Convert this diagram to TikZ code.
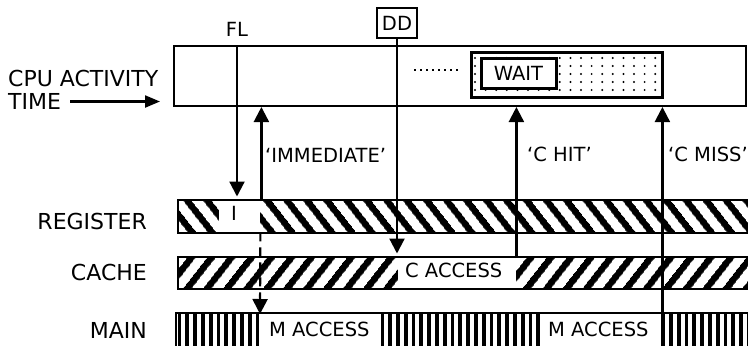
\documentclass[tikz,border=0pt]{standalone}
\usepackage{fontspec}
\setmainfont{DejaVu Sans}
\usetikzlibrary{patterns.meta,arrows.meta}
\begin{document}
\begin{tikzpicture}[x=1bp,y=-1bp,
  outer/.style={font=\fontsize{22bp}{26bp}\selectfont, inner sep=0pt},
  lbl/.style={font=\fontsize{19.5bp}{23bp}\selectfont, inner sep=0pt},
  arr/.style={line width=2.2bp, -{Triangle[length=15bp,width=15bp]}},
  barbox/.style={draw, line width=2bp, minimum width=580bp, anchor=west, inner sep=0pt},
  regpat/.style={pattern={Lines[angle=-52,distance=15.8bp,line width=7bp]}},
  cachepat/.style={pattern={Lines[angle=52,distance=15.8bp,line width=7bp]}},
  mainpat/.style={pattern={Lines[angle=90,distance=7.8bp,line width=3.8bp]}},
  whitebox/.style={fill=white, inner sep=0pt, anchor=north west}
]
\useasboundingbox (0,0) rectangle (748,345);

% CPU activity box
\node[draw, line width=2bp, inner sep=0pt, minimum width=572bp, minimum height=60bp] (cpu) at (460,76) {};

% wait area
\node[inner sep=0pt, minimum width=190bp, minimum height=44bp] (waitarea) at (567,75) {};
\begin{scope}
  \clip (waitarea.north west) rectangle (waitarea.south east);
  \foreach \i in {0,...,17} \foreach \j in {0,...,4}
    \fill (475+10.6*\i, 58+8*\j) circle (1.1bp);
\end{scope}
\draw[line width=3bp] (waitarea.north west) rectangle (waitarea.south east);
\node[draw, fill=white, line width=3bp, inner sep=0pt, minimum width=75bp, minimum height=30bp, lbl] (wait) at (518.5,73) {WAIT};
\coordinate (dotsA) at (414,70);
\coordinate (dotsB) at (462,70);
\draw[line width=2bp, dash pattern=on 2bp off 4bp] (dotsA) -- (dotsB);

% labels on the left
\node[outer, anchor=west] (cpulbl) at (8,78.5) {CPU ACTIVITY};
\node[outer, anchor=west] (time) at (8,101.5) {TIME};
\coordinate (timetip) at (160,101.5);
\draw[line width=2.2bp, -{Triangle[length=15bp,width=12bp]}] (70,101.5) -- (timetip);

\node[outer, anchor=east] (reglbl) at (147,221.5) {REGISTER};
\node[outer, anchor=east] (cachelbl) at (147,272) {CACHE};
\node[outer, anchor=east] (mainlbl) at (147,330.5) {MAIN};

% bars
\node[barbox, regpat, minimum height=33bp] (reg) at (174,216.5) {};
\node[barbox, cachepat, minimum height=32bp] (cache) at (174,273) {};
\node[barbox, mainpat, minimum height=42bp] (main) at (174,334) {};

% white boxes in bars
\node[whitebox, minimum width=41bp, minimum height=31bp] (ibox) at (219,201) {};
\node[lbl] (itext) at (234,213.5) {I};
\node[whitebox, minimum width=118bp, minimum height=30bp] (cacc) at (398,258) {};
\node[lbl, anchor=west] (cacctext) at (405,270) {C ACCESS};
\node[whitebox, minimum width=121bp, minimum height=40bp] (m1) at (260,314) {};
\node[lbl, anchor=west] (m1text) at (269,329) {M ACCESS};
\node[whitebox, minimum width=120bp, minimum height=40bp] (m2) at (540,314) {};
\node[lbl, anchor=west] (m2text) at (548,329) {M ACCESS};

% top labels
\node[lbl] (fl) at (237,29) {FL};
\node[draw, line width=2bp, inner sep=0pt, minimum width=40bp, minimum height=30bp, lbl] (dd) at (397,23) {DD};

% connectors
\draw[arr] (fl |- cpu.north) -- (fl |- reg.north);
\draw[arr] (dd.south) -- (dd.south |- cache.north);
\draw[arr] ([xshift=1bp]ibox.north east) -- ([xshift=1bp]ibox.north east |- cpu.south);
\draw[arr, dash pattern=on 9bp off 6bp] (ibox.south east) -- (m1.north west);
\draw[arr] (cacc.north east) -- (cacc.north east |- cpu.south);
\draw[arr] ([xshift=2bp]m2.north east) -- ([xshift=2bp]m2.north east |- cpu.south);

% connector labels
\node[lbl, anchor=west] (immlbl) at (265,155.5) {‘IMMEDIATE’};
\node[lbl, anchor=west] (hitlbl) at (527,154.5) {‘C HIT’};
\node[lbl, anchor=west] (misslbl) at (668,154.5) {‘C MISS’};
\end{tikzpicture}
\end{document}
